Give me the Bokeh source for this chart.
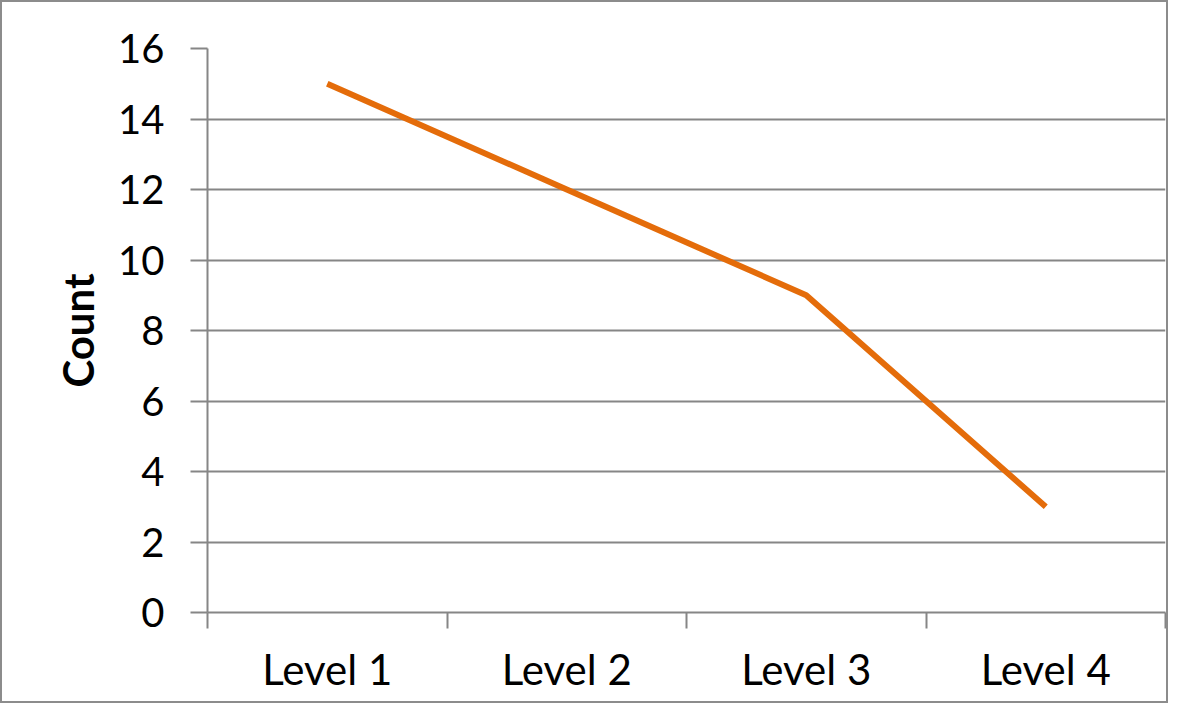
from bokeh.plotting import figure
from bokeh.models import FixedTicker, Range1d
from bokeh.embed import file_html
from bokeh.resources import INLINE

categories = ["Level 1", "Level 2", "Level 3", "Level 4"]
counts = [15, 12, 9, 3]
y_ticks = [0, 2, 4, 6, 8, 10, 12, 14, 16]

xs = [i + 0.5 for i in range(len(categories))]
FONT = "Lato"
GRID = "#868686"

p = figure(width=1168, height=703, output_backend="svg", toolbar_location=None,
           x_range=Range1d(0, len(categories)), y_range=Range1d(0, 16),
           min_border_left=205, min_border_right=5, min_border_top=46, min_border_bottom=93)
p.styles = {"border": "2px solid #8c8c8c"}
p.outline_line_color = None
p.background_fill_color = "white"
p.border_fill_color = "white"

p.line(xs, counts, line_color="#E46C0A", line_width=6)

# x axis
p.xaxis.ticker = FixedTicker(ticks=xs, minor_ticks=list(range(len(categories) + 1)))
p.xaxis.major_label_overrides = {x: c for x, c in zip(xs, categories)}
p.xaxis.major_tick_line_color = None
p.xaxis.major_tick_out = 16
p.xaxis.major_tick_in = 0
p.xaxis.minor_tick_out = 16
p.xaxis.minor_tick_in = 0
p.xaxis.minor_tick_line_color = GRID
p.xaxis.minor_tick_line_width = 2
p.xaxis.axis_line_color = GRID
p.xaxis.axis_line_width = 2
p.xaxis.major_label_text_font = FONT
p.xaxis.major_label_text_font_size = "42px"
p.xaxis.major_label_text_color = "black"
p.xaxis.major_label_standoff = 15

# y axis
p.yaxis.ticker = FixedTicker(ticks=y_ticks, minor_ticks=[])
p.yaxis.major_tick_out = 17
p.yaxis.major_tick_in = 0
p.yaxis.major_tick_line_color = GRID
p.yaxis.major_tick_line_width = 2
p.yaxis.axis_line_color = GRID
p.yaxis.axis_line_width = 2
p.yaxis.major_label_text_font = FONT
p.yaxis.major_label_text_font_size = "40px"
p.yaxis.major_label_text_color = "black"
p.yaxis.major_label_standoff = 26
p.yaxis.axis_label = "Count"
p.yaxis.axis_label_text_font = FONT
p.yaxis.axis_label_text_font_style = "bold"
p.yaxis.axis_label_text_font_size = "42px"
p.yaxis.axis_label_text_color = "black"
p.yaxis.axis_label_standoff = 12

p.xgrid.visible = False
p.ygrid.ticker = FixedTicker(ticks=y_ticks)
p.ygrid.grid_line_color = GRID
p.ygrid.grid_line_width = 2

open("out.html", "w").write(file_html(p, INLINE))
